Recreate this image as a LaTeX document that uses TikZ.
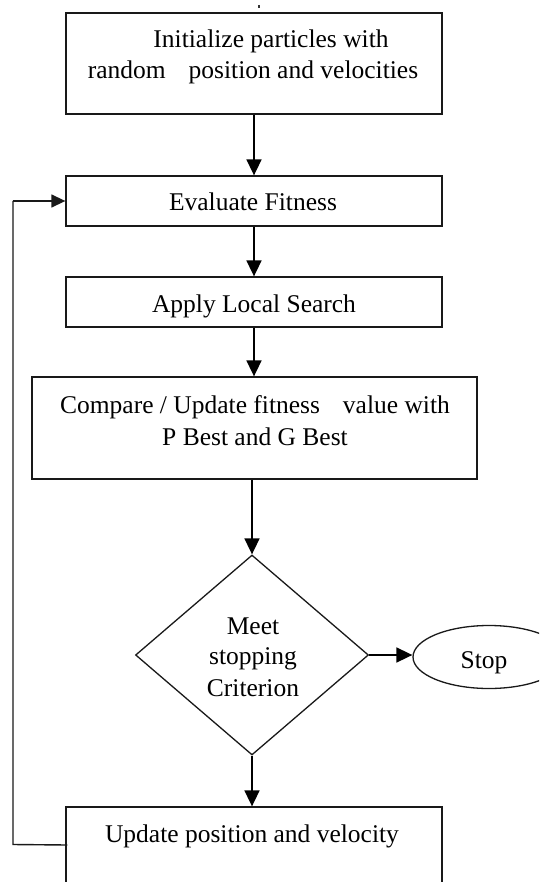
\documentclass[tikz,border=0pt]{standalone}
\usepackage{fontspec}
\setmainfont{Liberation Serif}
\usetikzlibrary{arrows.meta,shapes.geometric}
\begin{document}
\begin{tikzpicture}[x=1pt,y=-1pt,
  box/.style={draw=black!90,line width=1.3pt,rectangle,inner sep=0pt},
  txt/.style={anchor=base,inner sep=0pt,font=\fontsize{25.5}{31}\selectfont},
  flow/.style={draw=black,line width=1.7pt,-{Triangle[length=16pt,width=15pt]}},
  loopline/.style={draw=black!90,line width=1.4pt}]
\useasboundingbox (0,0) rectangle (539,882);
\clip (0,0) rectangle (539,882);
% boxes
\node[box,minimum width=376pt,minimum height=101pt] (b1) at (254,63.5) {};
\node[box,minimum width=376pt,minimum height=50pt] (b2) at (254,201) {};
\node[box,minimum width=376pt,minimum height=50pt] (b3) at (254,302) {};
\node[box,minimum width=445pt,minimum height=102pt] (b4) at (254.5,428) {};
\node[draw=black!90,line width=1.3pt,diamond,inner sep=0pt,minimum width=233pt,minimum height=200pt] (d) at (252,655) {};
\node[draw=black!90,line width=1.3pt,ellipse,inner sep=0pt,minimum width=152pt,minimum height=63pt] (s) at (489,657) {};
\node[box,minimum width=376pt,minimum height=76pt] (b5) at (254,845) {};
% texts
\node[txt] (t1a) at (271,48) {Initialize particles with};
\node[txt] (t1b) at (253,79) {random\hspace{0.9em}position and velocities};
\node[txt] (t2) at (253,211) {Evaluate Fitness};
\node[txt] (t3) at (254,312) {Apply Local Search};
\node[txt] (t4a) at (255,413) {Compare / Update fitness\hspace{0.9em}value with};
\node[txt] (t4b) at (255,445) {P Best and G Best};
\node[txt] (t5a) at (253,634) {Meet};
\node[txt] (t5b) at (253,664) {stopping};
\node[txt] (t5c) at (253,696) {Criterion};
\node[txt] (t6) at (484,668) {Stop};
\node[txt] (t7) at (252,842) {Update position and velocity};
% top mark
\coordinate (m1) at (259,5);
\coordinate (m2) at (259,8);
\draw[line width=2pt,black!80] (m1) -- (m2);
% connectors
\draw[flow] (b1.south) -- (b2.north);
\draw[flow] (b2.south) -- (b3.north);
\draw[flow] (b3.south) -- (b3.south |- b4.north);
\draw[flow] (b4.south -| d.north) -- (d.north);
\draw[flow] (d.east) -- (d.east -| s.west);
\draw[flow] (d.south) -- (d.south |- b5.north);
\coordinate (lp1) at (13,844.5);
\coordinate (lp2) at (13,201);
\draw[loopline] ([xshift=2pt]b5.west) -- (lp1) -- (lp2);
\draw[loopline,-{Triangle[length=14pt,width=13pt]}] (lp2) -- (b2.west);
\end{tikzpicture}
\end{document}
